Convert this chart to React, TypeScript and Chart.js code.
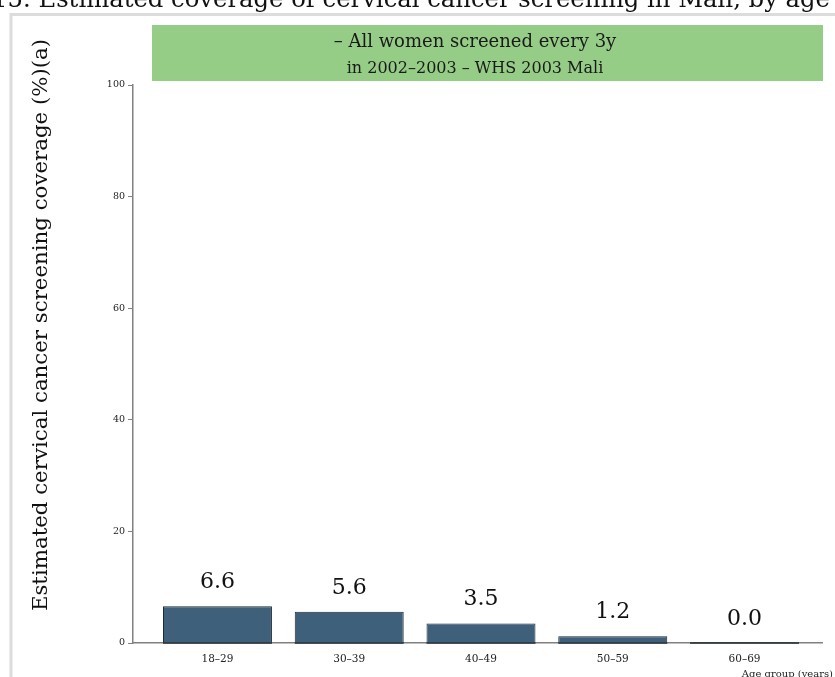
import React, { useEffect, useRef } from "react";
import { Chart, registerables } from "chart.js";

Chart.register(...registerables);

const categories = ["18–29", "30–39", "40–49", "50–59", "60–69"];
const coverage = [6.6, 5.6, 3.5, 1.2, 0.0];
const yTicks = [0, 20, 40, 60, 80, 100];
const titleText = "Figure 15. Estimated coverage of cervical cancer screening in Mali, by age";
const boxLine1 = "– All women screened every 3y";
const boxLine2 = "in 2002–2003 – WHS 2003 Mali";
const yTitle = "Estimated cervical cancer screening coverage (%)(a)";
const xTitle = "Age group (years)";

const W = 835;
const H = 677;
const SERIF = "'DejaVu Serif', 'Liberation Serif', serif";

const decorPlugin = {
  id: "decor",
  beforeDraw(chart: any) {
    const ctx = chart.ctx;
    ctx.save();
    ctx.fillStyle = "#ffffff";
    ctx.fillRect(0, 0, W, H);
    // frame
    ctx.strokeStyle = "#dcdcdc";
    ctx.lineWidth = 3;
    ctx.beginPath();
    ctx.moveTo(11, H + 5);
    ctx.lineTo(11, 14.5);
    ctx.lineTo(W + 5, 14.5);
    ctx.stroke();
    // title (cut off at the top)
    ctx.fillStyle = "#111";
    ctx.font = `24.3px ${SERIF}`;
    ctx.textAlign = "right";
    ctx.textBaseline = "alphabetic";
    ctx.fillText(titleText, 830, 7);
    // green box
    ctx.fillStyle = "#95cd87";
    ctx.fillRect(152, 25, 671, 56);
    ctx.fillStyle = "#1a1a1a";
    ctx.textAlign = "center";
    ctx.textBaseline = "middle";
    ctx.font = `18px ${SERIF}`;
    ctx.fillText(boxLine1, 475, 42);
    ctx.font = `16px ${SERIF}`;
    ctx.fillText(boxLine2, 475, 69);
    // y title
    ctx.save();
    ctx.translate(41, 325);
    ctx.rotate(-Math.PI / 2);
    ctx.font = `21.3px ${SERIF}`;
    ctx.fillStyle = "#111";
    ctx.fillText(yTitle, 0, 0);
    ctx.restore();
    // x title
    ctx.font = `10px ${SERIF}`;
    ctx.textAlign = "right";
    ctx.textBaseline = "alphabetic";
    ctx.fillStyle = "#222";
    ctx.fillText(xTitle, 833, 677);
    ctx.restore();
  },
  afterDatasetsDraw(chart: any) {
    const ctx = chart.ctx;
    const meta = chart.getDatasetMeta(0);
    const area = chart.chartArea;
    ctx.save();
    // dark baseline under bars
    ctx.strokeStyle = "#1e2a33";
    ctx.lineWidth = 1.5;
    meta.data.forEach((bar: any) => {
      ctx.beginPath();
      ctx.moveTo(bar.x - bar.width / 2, area.bottom);
      ctx.lineTo(bar.x + bar.width / 2, area.bottom);
      ctx.stroke();
    });
    ctx.fillStyle = "#111";
    ctx.font = `22px ${SERIF}`;
    ctx.textAlign = "center";
    ctx.textBaseline = "alphabetic";
    meta.data.forEach((bar: any, i: number) => {
      ctx.fillText(coverage[i].toFixed(1), bar.x, bar.y - 18);
    });
    ctx.restore();
  },
};

export default function App() {
  const ref = useRef<HTMLCanvasElement | null>(null);
  useEffect(() => {
    if (!ref.current) return;
    const chart = new Chart(ref.current, {
      type: "bar",
      data: {
        datasets: [
          {
            data: coverage.map((v, i) => ({ x: i, y: v })),
            backgroundColor: "#3e607a",
            borderColor: "#1e2a33",
            borderWidth: 1,
            barPercentage: 0.827,
            categoryPercentage: 1,
          },
        ],
      },
      options: {
        animation: false,
        responsive: false,
        maintainAspectRatio: false,
        layout: { padding: { left: 0, top: 85, right: 13, bottom: 0 } },
        plugins: { legend: { display: false }, tooltip: { enabled: false } },
        scales: {
          x: {
            type: "linear",
            offset: false,
            bounds: "ticks",
            min: -0.641,
            max: 4.588,
            afterBuildTicks: (scale: any) => {
              scale.ticks = categories.map((_, i) => ({ value: i }));
            },
            afterFit: (scale: any) => {
              scale.height = 34;
            },
            ticks: {
              autoSkip: false,
              maxRotation: 0,
              padding: 10,
              color: "#222",
              font: { family: SERIF, size: 10.5 },
              callback: (v: any) => categories[Math.round(Number(v))] ?? "",
            },
            grid: { display: true, drawOnChartArea: false, drawTicks: false },
            border: { display: true, color: "#808080", width: 1.5 },
          },
          y: {
            type: "linear",
            min: 0,
            max: 100,
            afterBuildTicks: (scale: any) => {
              scale.ticks = yTicks.map((v) => ({ value: v }));
            },
            afterFit: (scale: any) => {
              scale.width = 133;
            },
            ticks: {
              padding: 3,
              color: "#222",
              font: { family: SERIF, size: 9.5 },
            },
            grid: {
              display: true,
              drawOnChartArea: false,
              drawTicks: true,
              tickLength: 5,
              tickColor: "#808080",
              tickWidth: 1,
            },
            border: { display: true, color: "#808080", width: 1.5 },
          },
        },
      },
      plugins: [decorPlugin],
    } as any);
    return () => chart.destroy();
  }, []);
  return (
    <div style={{ position: "absolute", left: 0, top: 0, width: W, height: H }}>
      <canvas ref={ref} width={W} height={H} style={{ width: W, height: H, display: "block" }} />
    </div>
  );
}
